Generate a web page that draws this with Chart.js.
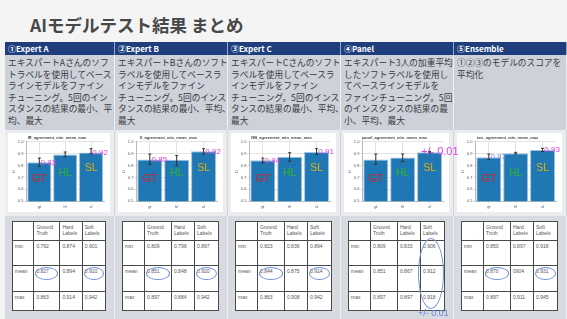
<!DOCTYPE html>
<html lang="ja">
<head>
<meta charset="utf-8">
<script src="https://cdn.jsdelivr.net/npm/chart.js@4.4.1/dist/chart.umd.min.js"></script>
<style>
  body { margin:0; width:567px; height:319px; overflow:hidden; background:#f4f4f4; position:relative;
         font-family:"Noto Sans CJK JP","Noto Sans",sans-serif; }
  .title { position:absolute; left:30px; top:15px; font-size:17.5px; line-height:20px; font-weight:bold; color:#484848; white-space:nowrap; }
  .col { position:absolute; top:42px; }
  .head { height:13px; background:#1f3e7d; color:#fff; font-size:8px; font-weight:bold; line-height:13px;
          padding-left:3px; border-right:1px solid #9aa8c8; box-sizing:border-box; white-space:nowrap; }
  .desc { height:75px; background:#cdd1da; color:#3a3a3a; font-size:8.7px; line-height:11.6px;
          padding:2px 0 0 3px; border-right:1px solid #eef0f3; box-sizing:border-box; white-space:nowrap; }
  .chartrow { height:86px; background:#eaecf0; border-right:1px solid #cfd3da; box-sizing:border-box; position:relative; }
  .card { position:absolute; top:3px; left:3px; height:79px; background:#fff; }
  .tablerow { height:103px; background:#d7dae1; border-right:1px solid #eceef1; box-sizing:border-box; position:relative; }
  table { position:absolute; top:5px; left:7px; height:89px; border-collapse:collapse; background:#fff; table-layout:fixed;
          font-family:"Liberation Sans",Arial,sans-serif; font-size:5px; color:#555; }
  td { border:1px solid #4a4a4a; vertical-align:top; padding:3px 2px 0 2px; line-height:5.5px; position:relative; }
  .ring { position:absolute; left:1px; right:1px; top:1px; height:11px; border:1px solid #6f8fd8; border-radius:50%; }
  .note { position:absolute; white-space:nowrap; font-family:"Liberation Sans",Arial,sans-serif; }
</style>
</head>
<body>
<div class="title">AIモデルテスト結果 まとめ</div>
<div id="grid"></div>
<div class="note" style="left:421px; top:145px; font-size:11px; color:#dd44dd;">+/- 0.01</div>
<div style="position:absolute; left:418px; top:238px; width:24px; height:69px; border:1px solid #7393dc; border-radius:50%;"></div>
<div class="note" style="left:418px; top:308px; font-size:9px; color:#6386d8;">+/- 0.01</div>
<script>
// 列見出しと説明
const headers = ['①Expert A', '②Expert B', '③Expert C', '④Panel', '⑤Ensemble'];
const descLines = [
  ['エキスパートAさんのソフ', 'トラベルを使用してベース', 'ラインモデルをファイン', 'チューニング。5回のイン', 'スタンスの結果の最小、平', '均、最大'],
  ['エキスパートBさんのソフト', 'ラベルを使用してベースラ', 'インモデルをファイン', 'チューニング。5回のインス', 'タンスの結果の最小、平均、', '最大'],
  ['エキスパートCさんのソフト', 'ラベルを使用してベースラ', 'インモデルをファイン', 'チューニング。5回のインス', 'タンスの結果の最小、平均、', '最大'],
  ['エキスパート3人の加重平均', 'したソフトラベルを使用し', 'てベースラインモデルを', 'ファインチューニング。5回', 'のインスタンスの結果の最', '小、平均、最大'],
  ['①②③のモデルのスコアを', '平均化']
];
const chartTitles = ['IR_agreement_min_mean_max', 'II_agreement_min_mean_max', 'NB_agreement_min_mean_max',
                     'panel_agreement_min_mean_max', 'ens_agreement_min_mean_max'];

// データ
const categories = ['gt', 'hl', 'sl'];
const bigLabels = ['GT', 'HL', 'SL'];
const tableCols = ['Ground<br>Truth', 'Hard<br>Labels', 'Soft<br>Labels'];
const minVals  = [[0.792, 0.874, 0.901], [0.809, 0.799, 0.897], [0.823, 0.836, 0.894], [0.809, 0.833, 0.906], [0.850, 0.897, 0.918]];
const meanVals = [[0.827, 0.894, 0.910], [0.851, 0.848, 0.920], [0.844, 0.875, 0.914], [0.851, 0.867, 0.912], [0.870, 0.904, 0.931]];
const maxVals  = [[0.863, 0.914, 0.942], [0.897, 0.884, 0.942], [0.863, 0.908, 0.942], [0.897, 0.897, 0.918], [0.897, 0.911, 0.945]];
const meanShown = { '4-1': '0904' }; // 元スライドの表記のまま
const notes = [['0.83', null, '0.92'], ['0.85', null, '0.92'], ['0.84', null, '0.91'], [null, null, null], ['0.87', null, '0.93']];
const yTicks = [0.5, 0.6, 0.7, 0.8, 0.9, 1.0];

// 見た目
const colLeft = [5, 115, 228, 341, 454];
const colWidth = [110, 113, 113, 113, 113];
const labelColors = ['#e51b1b', '#2cb52c', '#e2b007'];
const labelLevels = [0.69, 0.735, 0.78];
const noteColors = [['#dd44dd', null, '#dd44dd'], ['#dd44dd', null, '#dd44dd'], ['#dd44dd', null, '#dd44dd'], [null, null, null], ['#6f8fe0', null, '#dd44dd']];

const markPlugin = {
  id: 'marks',
  afterDatasetsDraw(chart, args, opts) {
    const ctx = chart.ctx;
    const y = chart.scales.y;
    const k = opts.k;
    ctx.save();
    chart.getDatasetMeta(0).data.forEach((bar, i) => {
      // 最小〜最大のエラーバー
      const y0 = y.getPixelForValue(minVals[k][i]);
      const y1 = y.getPixelForValue(maxVals[k][i]);
      ctx.strokeStyle = '#333';
      ctx.lineWidth = 1;
      ctx.beginPath();
      ctx.moveTo(bar.x, y0); ctx.lineTo(bar.x, y1);
      ctx.moveTo(bar.x - 1.5, y0); ctx.lineTo(bar.x + 1.5, y0);
      ctx.moveTo(bar.x - 1.5, y1); ctx.lineTo(bar.x + 1.5, y1);
      ctx.stroke();

      ctx.textAlign = 'center';
      ctx.textBaseline = 'middle';
      ctx.font = '10.5px "Liberation Sans", Arial, sans-serif';
      ctx.fillStyle = labelColors[i];
      ctx.fillText(bigLabels[i], bar.x, y.getPixelForValue(labelLevels[i]));

      if (notes[k][i]) {
        ctx.font = '8px "Liberation Sans", Arial, sans-serif';
        ctx.fillStyle = noteColors[k][i];
        ctx.fillText(notes[k][i], bar.x + bar.width / 2 - 3, y.getPixelForValue(meanVals[k][i]));
      }
    });
    ctx.restore();
  }
};

const grid = document.getElementById('grid');
headers.forEach((h, k) => {
  const col = document.createElement('div');
  col.className = 'col';
  col.style.left = colLeft[k] + 'px';
  col.style.width = colWidth[k] + 'px';

  let rows = '<tr style="height:19px"><td></td>' + tableCols.map(c => `<td>${c}</td>`).join('') + '</tr>';
  [['min', minVals, 25], ['mean', meanVals, 26], ['max', maxVals, 19]].forEach(([name, arr, hgt]) => {
    rows += `<tr style="height:${hgt}px"><td>${name}</td>`;
    arr[k].forEach((v, i) => {
      let txt = v.toFixed(3);
      if (name === 'mean' && meanShown[k + '-' + i]) txt = meanShown[k + '-' + i];
      const ring = (name === 'mean' && k !== 3 && i !== 1) ? '<span class="ring"></span>' : '';
      rows += `<td>${txt}${ring}</td>`;
    });
    rows += '</tr>';
  });

  col.innerHTML = `
    <div class="head">${h}</div>
    <div class="desc">${descLines[k].join('<br>')}</div>
    <div class="chartrow"><div class="card" style="width:${colWidth[k] - 8}px"><canvas id="c${k}"></canvas></div></div>
    <div class="tablerow">
      <table style="width:${colWidth[k] - 16}px">
        <colgroup><col style="width:23%"><col style="width:28%"><col style="width:24%"><col style="width:25%"></colgroup>
        ${rows}
      </table>
    </div>`;
  grid.appendChild(col);

  const canvas = document.getElementById('c' + k);
  canvas.width = colWidth[k] - 8;
  canvas.height = 79;

  new Chart(canvas.getContext('2d'), {
    type: 'bar',
    data: {
      labels: categories,
      datasets: [{
        data: meanVals[k],
        backgroundColor: '#1f77b4',
        borderColor: '#9fc3e0',
        borderWidth: 1,
        barPercentage: 0.93,
        categoryPercentage: 1
      }]
    },
    options: {
      responsive: false,
      animation: false,
      devicePixelRatio: 1,
      layout: { padding: { top: 0, right: 6, bottom: 2, left: 2 } },
      plugins: {
        legend: { display: false },
        tooltip: { enabled: false },
        title: { display: true, text: chartTitles[k], font: { size: 4 }, color: '#444', padding: { top: 2, bottom: 2 } },
        marks: { k: k }
      },
      scales: {
        x: {
          grid: { color: '#e2e2e2', offset: false, tickLength: 2 },
          border: { color: '#bbb' },
          ticks: { font: { size: 4 }, color: '#555', padding: 1 }
        },
        y: {
          min: yTicks[0],
          max: yTicks[yTicks.length - 1],
          afterBuildTicks: axis => { axis.ticks = yTicks.map(v => ({ value: v })); },
          grid: { color: '#e2e2e2', tickLength: 2 },
          border: { color: '#bbb' },
          ticks: { font: { size: 4 }, color: '#555', padding: 1, callback: v => v.toFixed(1) },
          title: { display: true, text: 'f1', font: { size: 4 }, padding: 1 }
        }
      }
    },
    plugins: [markPlugin]
  });
});
</script>
</body>
</html>
